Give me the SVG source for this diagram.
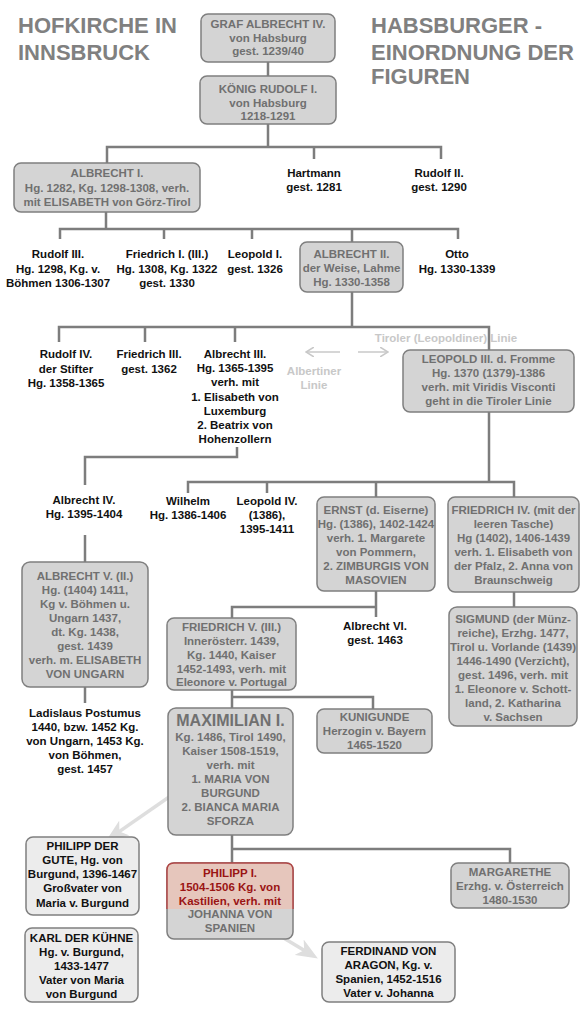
<svg xmlns="http://www.w3.org/2000/svg" width="588" height="1029" viewBox="0 0 588 1029">
<style>
text{font-family:"Liberation Sans",Arial,sans-serif;font-weight:bold;font-size:11.5px;text-anchor:middle}
.title{font-size:22px;fill:#808080;text-anchor:start}
.box{fill:#d4d4d4;stroke:#7f7f7f;stroke-width:1.5}
.lbox{fill:#ececec;stroke:#7f7f7f;stroke-width:1.5}
.g{fill:#707070}
.k{fill:#111}
.r{fill:#9a1414}
.faint{fill:#c8c8c8}
.conn{fill:none;stroke:#7d7d7d;stroke-width:2.5}
.thin{fill:none;stroke:#c8c8c8;stroke-width:1.5}
.big{fill:none;stroke:#dedede;stroke-width:3.5}
.big2{font-size:16px}
</style>
<defs>
<marker id="open" markerUnits="userSpaceOnUse" markerWidth="9" markerHeight="10" viewBox="0 0 9 10" refX="8" refY="5" orient="auto">
<path d="M0,0 L8,5 L0,10" fill="none" stroke="#c8c8c8" stroke-width="1.5"/>
</marker>
<marker id="head" markerUnits="userSpaceOnUse" markerWidth="22" markerHeight="18" viewBox="0 0 22 18" refX="15" refY="9" orient="auto">
<path d="M0,0 L22,9 L0,18 L6,9 z" fill="#dedede"/>
</marker>
</defs>

<g id="titles">
<text class="title" x="18" y="33">HOFKIRCHE IN</text>
<text class="title" x="18" y="60">INNSBRUCK</text>
<text class="title" x="371" y="33">HABSBURGER -</text>
<text class="title" x="371" y="60">EINORDNUNG DER</text>
<text class="title" x="371" y="84">FIGUREN</text>
</g>

<g id="connectors">
<path class="conn" d="M268,62 V76"/>
<path class="conn" d="M268,124 V147 M107,163 V147 H441 V159 M314,147 V159"/>
<path class="conn" d="M106,212 V229 M60,239 V229 H458 V239 M164,229 V239 M252,229 V239 M352,229 V242"/>
<path class="conn" d="M352,292 V327 M59,342 V327 H489 V350 M145,327 V342 M235,327 V342"/>
<path class="conn" d="M237,447 V457 H85 V485"/>
<path class="conn" d="M85,535 V562"/>
<path class="conn" d="M85,687 V703"/>
<path class="conn" d="M489,412 V482 M188,493 V482 H514 V497 M267,482 V493 M376,482 V497"/>
<path class="conn" d="M514,592 V607"/>
<path class="conn" d="M376,591 V617 M232,618 V607 H376"/>
<path class="conn" d="M232,690 V708 M232,697 H373 V709"/>
<path class="conn" d="M232,835 V863 M232,849 H510 V863"/>
<path class="thin" d="M340,352 H306" marker-end="url(#open)"/>
<path class="thin" d="M358,352 H388" marker-end="url(#open)"/>
<path class="big" d="M182,788 L112,836.6" marker-end="url(#head)"/>
<path class="big" d="M267,928 L311.9,954.9" marker-end="url(#head)"/>
</g>

<g id="labels">
<text class="faint" x="446" y="342">Tiroler (Leopoldiner) Linie</text>
<text class="faint" x="314" y="375">Albertiner</text>
<text class="faint" x="314" y="389">Linie</text>
</g>

<g id="graf-albrecht-iv">
<rect class="box" x="201" y="14" width="134" height="48" rx="7"/>
<text class="g" x="268" y="28">GRAF ALBRECHT IV.</text>
<text class="g" x="268" y="41.5">von Habsburg</text>
<text class="g" x="268" y="55">gest. 1239/40</text>
</g>

<g id="rudolf-i">
<rect class="box" x="200" y="76" width="136" height="48" rx="7"/>
<text class="g" x="268" y="93">KÖNIG RUDOLF I.</text>
<text class="g" x="268" y="106.5">von Habsburg</text>
<text class="g" x="268" y="120">1218-1291</text>
</g>

<g id="albrecht-i">
<rect class="box" x="14" y="163" width="186" height="49" rx="7"/>
<text class="g" x="107" y="177">ALBRECHT I.</text>
<text class="g" x="107" y="191.5">Hg. 1282, Kg. 1298-1308, verh.</text>
<text class="g" x="107" y="206">mit ELISABETH von Görz-Tirol</text>
</g>

<g id="hartmann">
<text class="k" x="314" y="177">Hartmann</text>
<text class="k" x="314" y="191">gest. 1281</text>
</g>

<g id="rudolf-ii">
<text class="k" x="439" y="177">Rudolf II.</text>
<text class="k" x="439" y="191">gest. 1290</text>
</g>

<g id="rudolf-iii">
<text class="k" x="58" y="258">Rudolf III.</text>
<text class="k" x="58" y="272.5">Hg. 1298, Kg. v.</text>
<text class="k" x="58" y="287">Böhmen 1306-1307</text>
</g>

<g id="friedrich-i">
<text class="k" x="167" y="258">Friedrich I. (III.)</text>
<text class="k" x="167" y="272.5">Hg. 1308, Kg. 1322</text>
<text class="k" x="167" y="287">gest. 1330</text>
</g>

<g id="leopold-i">
<text class="k" x="255" y="258">Leopold I.</text>
<text class="k" x="255" y="272.5">gest. 1326</text>
</g>

<g id="albrecht-ii">
<rect class="box" x="300" y="242" width="103" height="50" rx="7"/>
<text class="g" x="351.5" y="258">ALBRECHT II.</text>
<text class="g" x="351.5" y="272">der Weise, Lahme</text>
<text class="g" x="351.5" y="286">Hg. 1330-1358</text>
</g>

<g id="otto">
<text class="k" x="457" y="258">Otto</text>
<text class="k" x="457" y="272.5">Hg. 1330-1339</text>
</g>

<g id="rudolf-iv">
<text class="k" x="66" y="358">Rudolf IV.</text>
<text class="k" x="66" y="372.5">der Stifter</text>
<text class="k" x="66" y="387">Hg. 1358-1365</text>
</g>

<g id="friedrich-iii">
<text class="k" x="149" y="358">Friedrich III.</text>
<text class="k" x="149" y="372.5">gest. 1362</text>
</g>

<g id="albrecht-iii">
<text class="k" x="235" y="358">Albrecht III.</text>
<text class="k" x="235" y="372.2">Hg. 1365-1395</text>
<text class="k" x="235" y="386.4">verh. mit</text>
<text class="k" x="235" y="400.6">1. Elisabeth von</text>
<text class="k" x="235" y="414.8">Luxemburg</text>
<text class="k" x="235" y="429">2. Beatrix von</text>
<text class="k" x="235" y="443">Hohenzollern</text>
</g>

<g id="leopold-iii">
<rect class="box" x="403" y="350" width="171" height="62" rx="7"/>
<text class="g" x="488.5" y="363">LEOPOLD III. d. Fromme</text>
<text class="g" x="488.5" y="377">Hg. 1370 (1379)-1386</text>
<text class="g" x="488.5" y="391">verh. mit Viridis Visconti</text>
<text class="g" x="488.5" y="405">geht in die Tiroler Linie</text>
</g>

<g id="albrecht-iv">
<text class="k" x="84" y="504">Albrecht IV.</text>
<text class="k" x="84" y="518">Hg. 1395-1404</text>
</g>

<g id="wilhelm">
<text class="k" x="188" y="505">Wilhelm</text>
<text class="k" x="188" y="519">Hg. 1386-1406</text>
</g>

<g id="leopold-iv">
<text class="k" x="267" y="505">Leopold IV.</text>
<text class="k" x="267" y="519">(1386),</text>
<text class="k" x="267" y="533">1395-1411</text>
</g>

<g id="ernst">
<rect class="box" x="317" y="497" width="118" height="94" rx="7"/>
<text class="g" x="376" y="514">ERNST (d. Eiserne)</text>
<text class="g" x="376" y="528">Hg. (1386), 1402-1424</text>
<text class="g" x="376" y="542">verh. 1. Margarete</text>
<text class="g" x="376" y="556">von Pommern,</text>
<text class="g" x="376" y="570">2. ZIMBURGIS VON</text>
<text class="g" x="376" y="584">MASOVIEN</text>
</g>

<g id="friedrich-iv">
<rect class="box" x="448" y="497" width="131" height="95" rx="7"/>
<text class="g" x="513.5" y="514">FRIEDRICH IV. (mit der</text>
<text class="g" x="513.5" y="528">leeren Tasche)</text>
<text class="g" x="513.5" y="542">Hg (1402), 1406-1439</text>
<text class="g" x="513.5" y="556">verh. 1. Elisabeth von</text>
<text class="g" x="513.5" y="570">der Pfalz, 2. Anna von</text>
<text class="g" x="513.5" y="584">Braunschweig</text>
</g>

<g id="albrecht-v">
<rect class="box" x="22" y="562" width="126" height="125" rx="8"/>
<text class="g" x="85" y="580">ALBRECHT V. (II.)</text>
<text class="g" x="85" y="594">Hg. (1404) 1411,</text>
<text class="g" x="85" y="608">Kg v. Böhmen u.</text>
<text class="g" x="85" y="622">Ungarn 1437,</text>
<text class="g" x="85" y="636">dt. Kg. 1438,</text>
<text class="g" x="85" y="650">gest. 1439</text>
<text class="g" x="85" y="664">verh. m. ELISABETH</text>
<text class="g" x="85" y="678">VON UNGARN</text>
</g>

<g id="ladislaus">
<text class="k" x="85" y="717">Ladislaus Postumus</text>
<text class="k" x="85" y="731">1440, bzw. 1452 Kg.</text>
<text class="k" x="85" y="745">von Ungarn, 1453 Kg.</text>
<text class="k" x="85" y="759">von Böhmen,</text>
<text class="k" x="85" y="773">gest. 1457</text>
</g>

<g id="friedrich-v">
<rect class="box" x="167" y="618" width="129" height="72" rx="7"/>
<text class="g" x="231.5" y="631">FRIEDRICH V. (III.)</text>
<text class="g" x="231.5" y="645">Innerösterr. 1439,</text>
<text class="g" x="231.5" y="659">Kg. 1440, Kaiser</text>
<text class="g" x="231.5" y="673">1452-1493, verh. mit</text>
<text class="g" x="231.5" y="686">Eleonore v. Portugal</text>
</g>

<g id="albrecht-vi">
<text class="k" x="375" y="630">Albrecht VI.</text>
<text class="k" x="375" y="644">gest. 1463</text>
</g>

<g id="sigmund">
<rect class="box" x="449" y="607" width="128" height="119" rx="8"/>
<text class="g" x="513" y="623">SIGMUND (der Münz-</text>
<text class="g" x="513" y="637">reiche), Erzhg. 1477,</text>
<text class="g" x="513" y="651">Tirol u. Vorlande (1439)</text>
<text class="g" x="513" y="665">1446-1490 (Verzicht),</text>
<text class="g" x="513" y="679">gest. 1496, verh. mit</text>
<text class="g" x="513" y="693">1. Eleonore v. Schott-</text>
<text class="g" x="513" y="707">land, 2. Katharina</text>
<text class="g" x="513" y="721">v. Sachsen</text>
</g>

<g id="kunigunde">
<rect class="box" x="317" y="709" width="115" height="44" rx="7"/>
<text class="g" x="374.5" y="721">KUNIGUNDE</text>
<text class="g" x="374.5" y="735">Herzogin v. Bayern</text>
<text class="g" x="374.5" y="749">1465-1520</text>
</g>

<g id="maximilian-i">
<rect class="box" x="168" y="708" width="125" height="127" rx="8"/>
<text class="g big2" x="230.5" y="726">MAXIMILIAN I.</text>
<text class="g" x="230.5" y="741">Kg. 1486, Tirol 1490,</text>
<text class="g" x="230.5" y="755">Kaiser 1508-1519,</text>
<text class="g" x="230.5" y="769">verh. mit</text>
<text class="g" x="230.5" y="783">1. MARIA VON</text>
<text class="g" x="230.5" y="797">BURGUND</text>
<text class="g" x="230.5" y="811">2. BIANCA MARIA</text>
<text class="g" x="230.5" y="825">SFORZA</text>
</g>

<g id="philipp-der-gute">
<rect class="lbox" x="26" y="837" width="113" height="78" rx="7"/>
<text class="k" x="82.5" y="850">PHILIPP DER</text>
<text class="k" x="82.5" y="864">GUTE, Hg. von</text>
<text class="k" x="82.5" y="878">Burgund, 1396-1467</text>
<text class="k" x="82.5" y="892">Großvater von</text>
<text class="k" x="82.5" y="907">Maria v. Burgund</text>
</g>

<g id="karl-der-kuehne">
<rect class="lbox" x="25" y="928" width="113" height="74" rx="7"/>
<text class="k" x="81.5" y="942">KARL DER KÜHNE</text>
<text class="k" x="81.5" y="956">Hg. v. Burgund,</text>
<text class="k" x="81.5" y="970">1433-1477</text>
<text class="k" x="81.5" y="984">Vater von Maria</text>
<text class="k" x="81.5" y="998">von Burgund</text>
</g>

<g id="philipp-i">
<rect class="box" x="167" y="863" width="126" height="76" rx="7"/>
<path d="M167,909 V870 Q167,863 174,863 H286 Q293,863 293,870 V909 Z" fill="#e6c6bc"/>
<path d="M167,909 V870 Q167,863 174,863 H286 Q293,863 293,870 V909" fill="none" stroke="#b04646" stroke-width="1.5"/>
<text class="r" x="230" y="877">PHILIPP I.</text>
<text class="r" x="230" y="891">1504-1506 Kg. von</text>
<text class="r" x="230" y="905">Kastilien, verh. mit</text>
<text class="g" x="230" y="918">JOHANNA VON</text>
<text class="g" x="230" y="932">SPANIEN</text>
</g>

<g id="margarethe">
<rect class="box" x="451" y="863" width="118" height="45" rx="7"/>
<text class="g" x="510" y="876">MARGARETHE</text>
<text class="g" x="510" y="890">Erzhg. v. Österreich</text>
<text class="g" x="510" y="904">1480-1530</text>
</g>

<g id="ferdinand">
<rect class="lbox" x="322" y="942" width="133" height="60" rx="7"/>
<text class="k" x="388.5" y="955">FERDINAND VON</text>
<text class="k" x="388.5" y="969">ARAGON, Kg. v.</text>
<text class="k" x="388.5" y="983">Spanien, 1452-1516</text>
<text class="k" x="388.5" y="997">Vater v. Johanna</text>
</g>
</svg>
